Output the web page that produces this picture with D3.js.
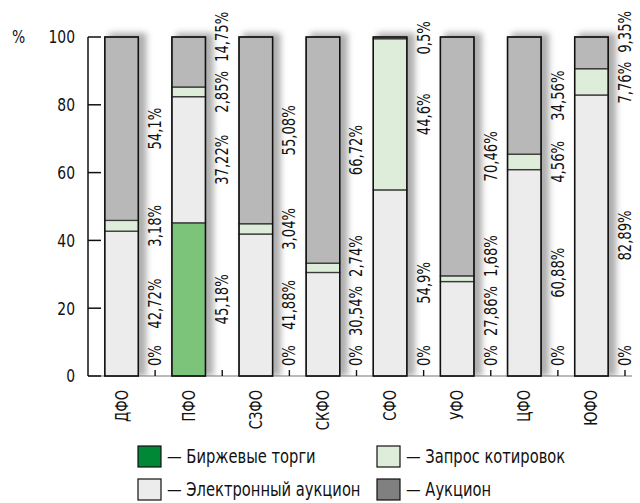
<!DOCTYPE html>
<html>
<head>
<meta charset="utf-8">
<script src="https://cdn.jsdelivr.net/npm/d3@7"></script>
<style>
  body { margin: 0; background: #fff; }
  text { font-family: "DejaVu Sans Condensed", "DejaVu Sans", sans-serif; fill: #111; }
</style>
</head>
<body>
<svg width="640" height="503"></svg>
<script>
// districts and shares by procurement method, %
const districts = ['ДФО', 'ПФО', 'СЗФО', 'СКФО', 'СФО', 'УФО', 'ЦФО', 'ЮФО'];
const birzha   = [0, 45.18, 0, 0, 0, 0, 0, 0];
const elAuc    = [42.72, 37.22, 41.88, 30.54, 54.9, 27.86, 60.88, 82.89];
const zapros   = [3.18, 2.85, 3.04, 2.74, 44.6, 1.68, 4.56, 7.76];
const auction  = [54.1, 14.75, 55.08, 66.72, 0.5, 70.46, 34.56, 9.35];
const yTicks = [0, 20, 40, 60, 80, 100];

const methods = [
  {key: 'birzha', name: 'Биржевые торги', values: birzha, fill: '#7dc47b', legend: '#008837'},
  {key: 'elAuc', name: 'Электронный аукцион', values: elAuc, fill: '#ececec', legend: '#ececec'},
  {key: 'zapros', name: 'Запрос котировок', values: zapros, fill: '#deedd9', legend: '#deedd9'},
  {key: 'auction', name: 'Аукцион', values: auction, fill: '#b8b8b8', legend: '#808080'}
];

const svg = d3.select('svg');
const narrow = 0.86; // squeeze text to look like the condensed face of the original

const x = d3.scaleBand()
    .domain(districts)
    .range([88, 625])
    .paddingInner(0.5)
    .paddingOuter(0.25);

const y = d3.scaleLinear()
    .domain([0, 100])
    .range([376, 37]);

const fmt = v => String(v).replace('.', ',') + '%';

const defs = svg.append('defs');
defs.append('filter')
    .attr('id', 'blur')
    .attr('x', '-50%').attr('y', '-20%')
    .attr('width', '200%').attr('height', '140%')
  .append('feGaussianBlur')
    .attr('stdDeviation', 3.2);
defs.append('clipPath')
    .attr('id', 'aboveBase')
  .append('rect')
    .attr('x', 0).attr('y', 0)
    .attr('width', 640).attr('height', y(0));

// stacked data
const stack = districts.map((d, i) => {
  let acc = 0;
  return methods.map(m => {
    const v = m.values[i];
    const seg = {district: d, method: m, value: v, y0: acc, y1: acc + v};
    acc += v;
    return seg;
  });
});

// shadows
svg.append('g')
    .attr('clip-path', 'url(#aboveBase)')
  .selectAll('rect')
  .data(districts)
  .join('rect')
    .attr('x', d => x(d) + 4)
    .attr('y', y(100) - 4)
    .attr('width', x.bandwidth() + 4)
    .attr('height', y(0) - y(100) + 4)
    .attr('fill', '#999')
    .attr('opacity', 0.8)
    .attr('filter', 'url(#blur)');

// baseline and tick marks between districts
svg.append('line')
    .attr('x1', 88).attr('x2', 632)
    .attr('y1', y(0)).attr('y2', y(0))
    .attr('stroke', '#777').attr('stroke-width', 1.2);

svg.append('g')
  .selectAll('line')
  .data(districts)
  .join('line')
    .attr('x1', d => x(d) + x.step() * 0.75)
    .attr('x2', d => x(d) + x.step() * 0.75)
    .attr('y1', y(0))
    .attr('y2', y(0) - 6)
    .attr('stroke', '#111')
    .attr('stroke-width', 1.4);

// bars
const bars = svg.append('g')
  .selectAll('g')
  .data(stack)
  .join('g');

bars.selectAll('rect')
  .data(d => d.filter(s => s.value > 0))
  .join('rect')
    .attr('x', s => x(s.district))
    .attr('y', s => y(s.y1))
    .attr('width', x.bandwidth())
    .attr('height', s => y(s.y0) - y(s.y1))
    .attr('fill', s => s.method.fill)
    .attr('stroke', '#3a3a3a')
    .attr('stroke-width', 1.3);

bars.append('rect')
    .attr('x', d => x(d[0].district))
    .attr('y', y(100))
    .attr('width', x.bandwidth())
    .attr('height', y(0) - y(100))
    .attr('fill', 'none')
    .attr('stroke', '#111')
    .attr('stroke-width', 1.4);

// value labels between bars, spread to avoid overlaps
const gap = 9;
stack.forEach(segs => {
  const lx = x(segs[0].district) + x.step() * 0.75;
  const labs = segs.map(s => {
    const t = svg.append('text')
        .attr('text-anchor', 'middle')
        .attr('dy', '0.35em')
        .attr('font-size', 17)
        .text(fmt(s.value));
    return {t, h: t.node().getComputedTextLength() * narrow / 2, c: y((s.y0 + s.y1) / 2)};
  });
  labs.forEach((l, i) => {
    const lim = i === 0 ? y(0) - 10 : labs[i - 1].c - labs[i - 1].h - gap;
    l.c = Math.min(l.c, lim - l.h);
  });
  const last = labs[labs.length - 1];
  if (last.c - last.h < 11) {
    last.c = 11 + last.h;
    for (let i = labs.length - 2; i >= 0; i--) {
      labs[i].c = Math.max(labs[i].c, labs[i + 1].c + labs[i + 1].h + gap + labs[i].h);
    }
  }
  labs.forEach(l => l.t.attr('transform', `translate(${lx},${l.c}) rotate(-90) scale(${narrow},1)`));
});

// y axis
const yAxis = svg.append('g');
yAxis.append('line')
    .attr('x1', 88).attr('x2', 88)
    .attr('y1', y(100)).attr('y2', y(0))
    .attr('stroke', '#111').attr('stroke-width', 1.5);
yAxis.selectAll('.tick')
  .data(yTicks)
  .join('line')
    .attr('x1', 88).attr('x2', 101)
    .attr('y1', d => y(d)).attr('y2', d => y(d))
    .attr('stroke', '#111').attr('stroke-width', 1.5);
yAxis.selectAll('text')
  .data(yTicks)
  .join('text')
    .attr('transform', d => `translate(75,${y(d)}) scale(${narrow},1)`)
    .attr('dy', '0.35em')
    .attr('text-anchor', 'end')
    .attr('font-size', 18)
    .text(d => d);
svg.append('text')
    .attr('transform', `translate(12,${y(100)}) scale(${narrow},1)`)
    .attr('dy', '0.35em')
    .attr('font-size', 18)
    .text('%');

// category labels
svg.append('g')
  .selectAll('text')
  .data(districts)
  .join('text')
    .attr('transform', d => `translate(${x(d) + x.bandwidth() / 2},390) rotate(-90) scale(${narrow},1)`)
    .attr('text-anchor', 'end')
    .attr('dy', '0.35em')
    .attr('font-size', 17)
    .text(d => d);

// legend
const legendOrder = [methods[0], methods[2], methods[1], methods[3]];
const lg = svg.append('g')
  .selectAll('g')
  .data(legendOrder)
  .join('g')
    .attr('transform', (m, i) => `translate(${i % 2 ? 377 : 138},${i < 2 ? 446 : 479})`);
lg.append('rect')
    .attr('width', 23).attr('height', 21)
    .attr('fill', m => m.legend)
    .attr('stroke', '#111').attr('stroke-width', 1.2);
lg.append('text')
    .attr('transform', `translate(29,17) scale(${narrow},1)`)
    .attr('font-size', 19)
    .text(m => '— ' + m.name);
</script>
</body>
</html>
